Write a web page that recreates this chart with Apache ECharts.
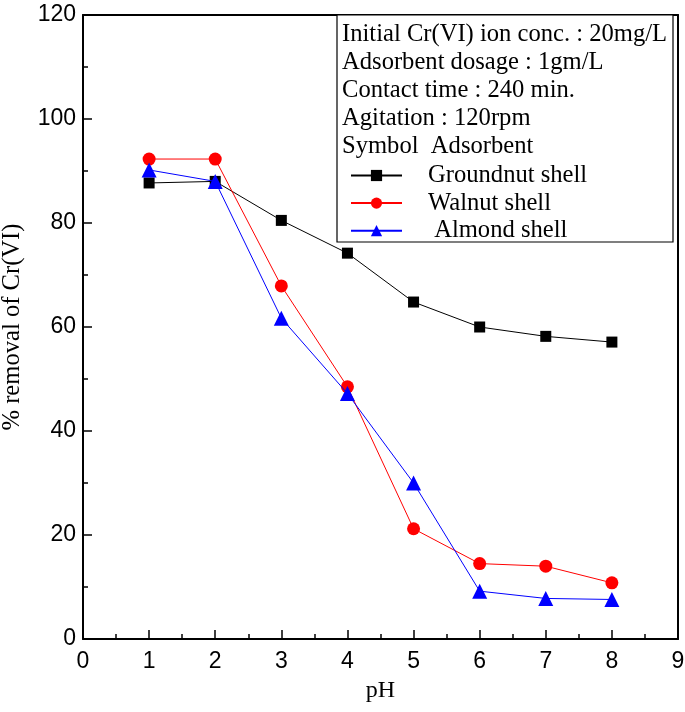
<!DOCTYPE html>
<html lang="en">
<head>
    <meta charset="UTF-8">
    <title>Cr(VI) removal vs pH</title>
    <script src="https://cdn.jsdelivr.net/npm/echarts@6/dist/echarts.min.js"></script>
    <style>
        html, body { margin: 0; padding: 0; background: #fff; }
    </style>
</head>
<body>
<div id="main" style="width: 685px;height:712px;"></div>
<script type="text/javascript">
    // pH values and % removal
    var ph = [1, 2, 3, 4, 5, 6, 7, 8];
    var groundnut = [87.7, 88.0, 80.5, 74.2, 64.8, 60.0, 58.2, 57.1];
    var walnut = [92.3, 92.3, 67.9, 48.5, 21.2, 14.5, 14.0, 10.8];
    var almond = [90.2, 88.0, 61.7, 47.2, 30.0, 9.2, 7.8, 7.6];
    var infoLines = [
        'Initial Cr(VI) ion conc. : 20mg/L',
        'Adsorbent dosage : 1gm/L',
        'Contact time : 240 min.',
        'Agitation : 120rpm',
        'Symbol  Adsorbent'
    ];

    var serif = '"Liberation Serif", "Times New Roman", serif';
    var sans = '"Liberation Sans", Arial, sans-serif';

    function pairs(ys) {
        return ph.map(function (x, i) { return [x, ys[i]]; });
    }

    var myChart = echarts.init(document.getElementById('main'));

    // text block inside the legend box
    var graphics = [{
        type: 'rect',
        shape: {x: 337, y: 15, width: 336, height: 227},
        style: {fill: '#fff', stroke: '#000', lineWidth: 1.2},
        z: 10
    }];
    infoLines.forEach(function (t, i) {
        graphics.push({
            type: 'text',
            x: 342,
            y: 35 + i * 27.8,
            style: {text: t, font: '24.6px ' + serif, fill: '#000', verticalAlign: 'middle'},
            z: 11
        });
    });

    myChart.setOption({
        animation: false,
        grid: {left: 83, right: 7, top: 15, bottom: 73, containLabel: false, outerBoundsMode: 'none'},
        legend: {
            orient: 'vertical',
            left: 345,
            top: 158,
            itemGap: 2.6,
            itemWidth: 51,
            itemHeight: 14,
            z: 12,
            textStyle: {fontFamily: serif, fontSize: 24.6, lineHeight: 24, color: '#000', padding: [0, 0, 0, 21]},
            data: [
                {name: 'Groundnut shell'},
                {name: 'Walnut shell'},
                {name: ' Almond shell'}
            ]
        },
        xAxis: [{
            type: 'value',
            min: 0,
            max: 9,
            interval: 1,
            name: 'pH',
            nameLocation: 'middle',
            nameGap: 40,
            nameTextStyle: {fontFamily: serif, fontSize: 24, color: '#000'},
            axisLine: {onZero: false, lineStyle: {color: '#000', width: 2}},
            axisTick: {inside: true, length: 9, lineStyle: {color: '#000', width: 1.5}},
            minorTick: {show: true, splitNumber: 2, length: 5, lineStyle: {color: '#000', width: 1.5}},
            axisLabel: {fontFamily: sans, fontSize: 23, color: '#000', margin: 11},
            splitLine: {show: false}
        }, {
            type: 'value',
            position: 'top',
            min: 0,
            max: 9,
            axisLine: {show: true, onZero: false, lineStyle: {color: '#000', width: 2}},
            axisTick: {show: false},
            axisLabel: {show: false},
            splitLine: {show: false}
        }],
        yAxis: [{
            type: 'value',
            min: 0,
            max: 120,
            interval: 20,
            name: '% removal of Cr(VI)',
            nameLocation: 'middle',
            nameGap: 58,
            nameTextStyle: {fontFamily: serif, fontSize: 24.6, color: '#000'},
            axisLine: {show: true, onZero: false, lineStyle: {color: '#000', width: 2}},
            axisTick: {inside: true, length: 9, lineStyle: {color: '#000', width: 1.5}},
            minorTick: {show: true, splitNumber: 2, length: 5, lineStyle: {color: '#000', width: 1.5}},
            axisLabel: {fontFamily: sans, fontSize: 23, color: '#000', margin: 7},
            splitLine: {show: false}
        }, {
            type: 'value',
            position: 'right',
            min: 0,
            max: 120,
            axisLine: {show: true, onZero: false, lineStyle: {color: '#000', width: 2}},
            axisTick: {show: false},
            axisLabel: {show: false},
            splitLine: {show: false}
        }],
        series: [{
            name: 'Groundnut shell',
            type: 'line',
            data: pairs(groundnut),
            symbol: 'rect',
            symbolSize: 11,
            itemStyle: {color: '#000'},
            lineStyle: {color: '#000', width: 1},
            z: 3
        }, {
            name: 'Walnut shell',
            type: 'line',
            data: pairs(walnut),
            symbol: 'circle',
            symbolSize: 13,
            itemStyle: {color: '#ff0000'},
            lineStyle: {color: '#ff0000', width: 1},
            z: 4
        }, {
            name: ' Almond shell',
            type: 'line',
            data: pairs(almond),
            symbol: 'triangle',
            symbolSize: 15,
            itemStyle: {color: '#0000ff'},
            lineStyle: {color: '#0000ff', width: 1},
            z: 5
        }],
        graphic: graphics
    });
</script>
</body>
</html>
